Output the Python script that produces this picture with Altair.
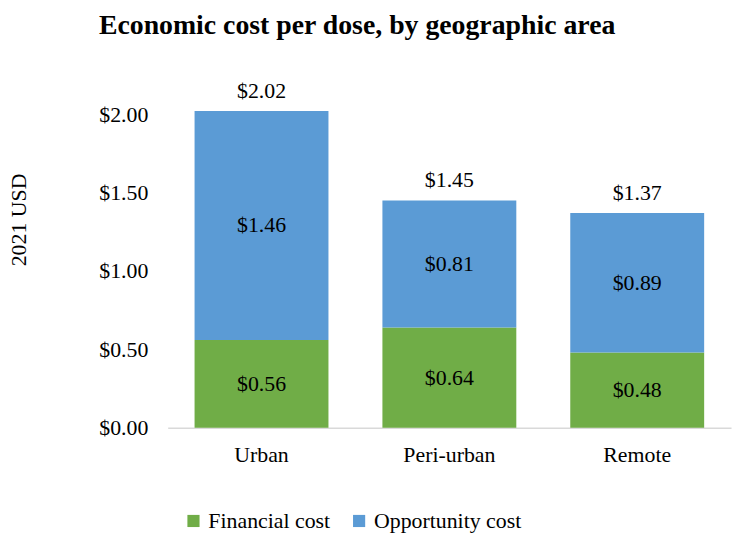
import altair as alt
import pandas as pd

areas = ["Urban", "Peri-urban", "Remote"]
financial = [0.56, 0.64, 0.48]
opportunity = [1.46, 0.81, 0.89]
totals = [2.02, 1.45, 1.37]
series = ["Financial cost", "Opportunity cost"]
colors = ["#70AD47", "#5B9BD5"]
y_ticks = [0, 0.5, 1.0, 1.5, 2.0]

rows = []
for a, f, o in zip(areas, financial, opportunity):
    rows.append({"area": a, "series": series[0], "value": f, "ord": 0})
    rows.append({"area": a, "series": series[1], "value": o, "ord": 1})
df = pd.DataFrame(rows)
tot = pd.DataFrame({"area": areas, "total": totals})

FONT = "Liberation Serif"

x = alt.X("area:N", sort=areas, title=None,
          scale=alt.Scale(paddingInner=0.287, paddingOuter=0.143),
          axis=alt.Axis(labelAngle=0, domain=True, domainColor="#D9D9D9", domainWidth=1.5,
                        ticks=False, labelPadding=17, labelFontSize=22, labelFont=FONT,
                        labelColor="#000000"))
yscale = alt.Scale(domain=[0, 2.1], nice=False)

bars = alt.Chart(df).mark_bar(size=135).encode(
    x=x,
    y=alt.Y("value:Q", stack="zero", scale=yscale, title="2021 USD",
            axis=alt.Axis(values=y_ticks, format="$.2f", grid=False, domain=False, ticks=False,
                          labelPadding=20, labelFontSize=22, labelFont=FONT, labelColor="#000000",
                          titleFont=FONT, titleFontSize=22, titleFontWeight="normal",
                          titleColor="#000000", titleX=-143, titleY=122, titleAngle=-90,
                          titleAlign="center", titleBaseline="alphabetic")),
    color=alt.Color("series:N", sort=series,
                    scale=alt.Scale(domain=series, range=colors),
                    legend=alt.Legend(title=None, orient="none", legendX=15, legendY=415,
                                      direction="horizontal", symbolType="square",
                                      symbolSize=150, symbolStrokeWidth=0, labelFont=FONT,
                                      labelFontSize=22, labelColor="#000000",
                                      columnPadding=18, labelOffset=4, labelLimit=300)),
    order=alt.Order("ord:Q"),
)

seg_labels = alt.Chart(df).transform_stack(
    stack="value", groupby=["area"], as_=["v0", "v1"],
    sort=[alt.SortField("ord", order="ascending")]
).transform_calculate(mid="(datum.v0 + datum.v1) / 2").mark_text(
    font=FONT, fontSize=22, color="#000000", baseline="middle"
).encode(
    x=alt.X("area:N", sort=areas),
    y=alt.Y("mid:Q", scale=yscale),
    text=alt.Text("value:Q", format="$.2f"),
)

total_labels = alt.Chart(tot).mark_text(
    font=FONT, fontSize=22, color="#000000", baseline="alphabetic", dy=-13
).encode(
    x=alt.X("area:N", sort=areas),
    y=alt.Y("total:Q", scale=yscale),
    text=alt.Text("total:Q", format="$.2f"),
)

chart = alt.layer(bars, seg_labels, total_labels).properties(
    width=568, height=332,
    background="#ffffff",
    autosize=alt.AutoSizeParams(type="none"),
    padding={"left": 161, "top": 89, "right": 5, "bottom": 114},
    title=alt.TitleParams("Economic cost per dose, by geographic area", font=FONT,
                          fontSize=28, fontWeight="bold", color="#000000",
                          anchor="middle", dx=-93, offset=41, frame="group"),
).configure_view(stroke=None)

chart.save("out.html", embed_options={"renderer": "svg", "actions": False})
